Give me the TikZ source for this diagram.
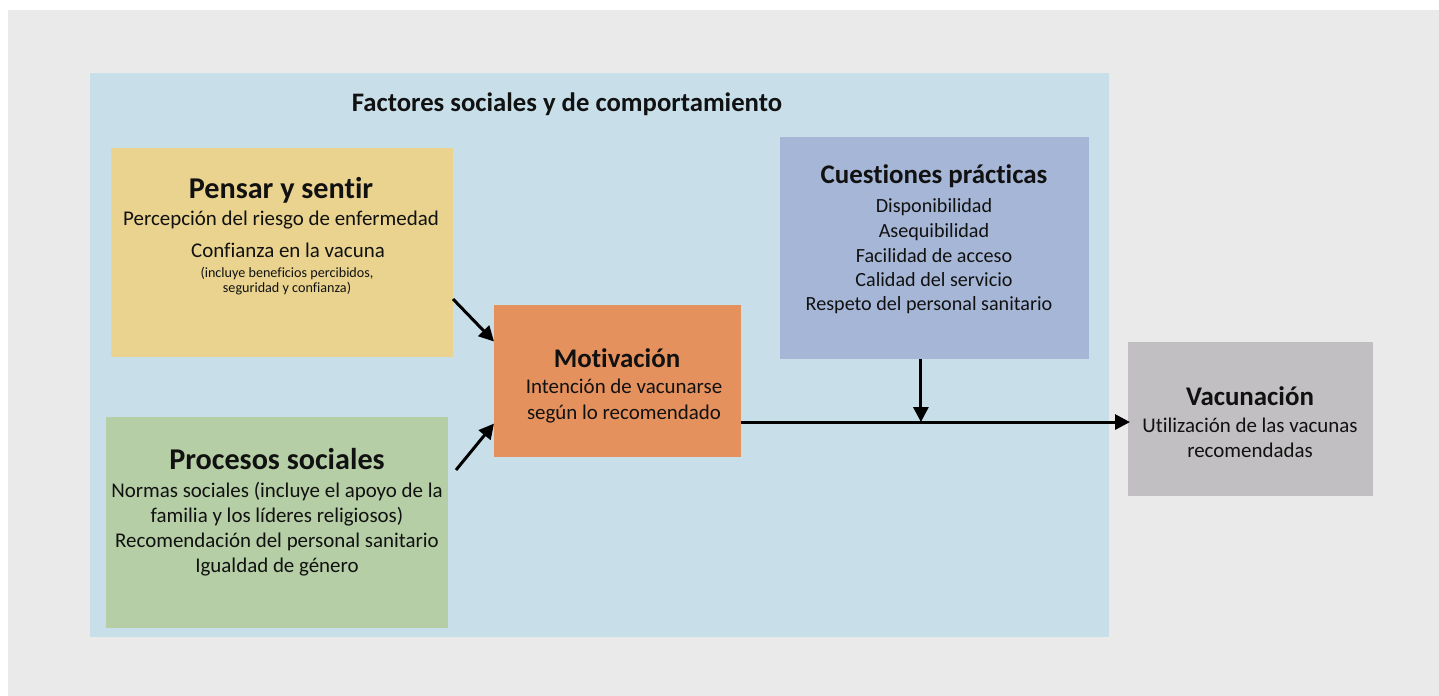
\documentclass[tikz,border=0pt]{standalone}
\usepackage{fontspec}
\setmainfont{Carlito}[Ligatures=NoCommon]
\usetikzlibrary{arrows.meta,calc}
\definecolor{bggray}{HTML}{EAEAEA}
\definecolor{panelblue}{HTML}{C8DFEA}
\definecolor{cyellow}{HTML}{E9D38E}
\definecolor{cgreen}{HTML}{B5CEA5}
\definecolor{corange}{HTML}{E5915E}
\definecolor{cblue}{HTML}{A6B6D6}
\definecolor{cgray}{HTML}{C1BFC1}
\definecolor{ink}{HTML}{111111}
\tikzset{
  box/.style={draw=none,inner sep=0pt,outer sep=0pt,anchor=north west},
  ttl/.style={anchor=base,inner sep=0pt,text=ink,font=\fontsize{27}{30}\selectfont\bfseries},
  bigttl/.style={anchor=base,inner sep=0pt,text=ink,font=\fontsize{30.3}{33}\selectfont\bfseries},
  body/.style={anchor=base,inner sep=0pt,text=ink,font=\fontsize{21}{24}\selectfont},
  small/.style={anchor=base,inner sep=0pt,text=ink,font=\fontsize{14.2}{17}\selectfont},
  arr/.style={line width=3bp,draw=black,-{Triangle[length=15bp,width=15bp]}}
}
\begin{document}
\begin{tikzpicture}[x=1bp,y=-1bp]
\useasboundingbox (0,0) rectangle (1439,696);
\fill[white] (0,0) rectangle (1439,696);
\fill[bggray] (8,10) rectangle (1439,696);
% main panel
\node[box,fill=panelblue,minimum width=1019bp,minimum height=564bp] (panel) at (90,73) {};
\node[anchor=base,inner sep=0pt,text=ink,font=\fontsize{26.8}{30}\selectfont\bfseries] (ptitle) at (567,112) {Factores sociales y de comportamiento};
% boxes
\node[box,fill=cyellow,minimum width=342bp,minimum height=209bp] (pensar) at (111,148) {};
\node[box,fill=cgreen,minimum width=342bp,minimum height=211bp] (proc) at (106,417) {};
\node[box,fill=corange,minimum width=247bp,minimum height=152bp] (motiv) at (494,305) {};
\node[box,fill=cblue,minimum width=309bp,minimum height=222bp] (cuest) at (780,137) {};
\node[box,fill=cgray,minimum width=245bp,minimum height=154bp] (vac) at (1128,342) {};
% Pensar text
\node[bigttl] (p0) at (281,198) {Pensar y sentir};
\node[body] (p1) at (281,225) {Percepción del riesgo de enfermedad};
\node[body] (p2) at (288,257) {Confianza en la vacuna};
\node[small] (p3) at (287,277) {(incluye beneficios percibidos,};
\node[small] (p4) at (287,292) {seguridad y confianza)};
% Procesos text
\node[bigttl] (s0) at (277,469) {Procesos sociales};
\node[body] (s1) at (277,497) {Normas sociales (incluye el apoyo de la};
\node[body] (s2) at (277,522) {familia y los líderes religiosos)};
\node[body] (s3) at (277,547) {Recomendación del personal sanitario};
\node[body] (s4) at (277,572) {Igualdad de género};
% Motivacion text
\node[ttl] (m0) at (617,367) {Motivación};
\node[body] (m1) at (624,393) {Intención de vacunarse};
\node[body] (m2) at (624,419) {según lo recomendado};
% Cuestiones text
\node[ttl] (c0) at (934,183) {Cuestiones prácticas};
\node[body,font=\fontsize{20.2}{23}\selectfont] (c1) at (934,212) {Disponibilidad};
\node[body,font=\fontsize{20.2}{23}\selectfont] (c2) at (934,237) {Asequibilidad};
\node[body,font=\fontsize{20.2}{23}\selectfont] (c3) at (934,262) {Facilidad de acceso};
\node[body,font=\fontsize{20.2}{23}\selectfont] (c4) at (934,286) {Calidad del servicio};
\node[body,font=\fontsize{20.2}{23}\selectfont] (c5) at (929,310) {Respeto del personal sanitario};
% Vacunacion text
\node[ttl] (v0) at (1250,405) {Vacunación};
\node[body] (v1) at (1250,432) {Utilización de las vacunas};
\node[body] (v2) at (1250,457) {recomendadas};
% connectors
\coordinate (a1s) at (453,299);
\coordinate (a1e) at ($(motiv.north west)!0.24!(motiv.south west)$);
\coordinate (a2s) at (456,470);
\coordinate (a2e) at ($(motiv.north west)!0.78!(motiv.south west)$);
\coordinate (hs) at ($(motiv.north east)!0.77!(motiv.south east)$);
\coordinate (cs) at ($(cuest.south west)!0.456!(cuest.south east)$);
\draw[arr] (a1s) -- (a1e);
\draw[arr] (a2s) -- (a2e);
\draw[arr] (hs) -- ($(hs -| vac.west)+(2,0)$);
\draw[arr] (cs) -- (cs |- hs);
\end{tikzpicture}
\end{document}
